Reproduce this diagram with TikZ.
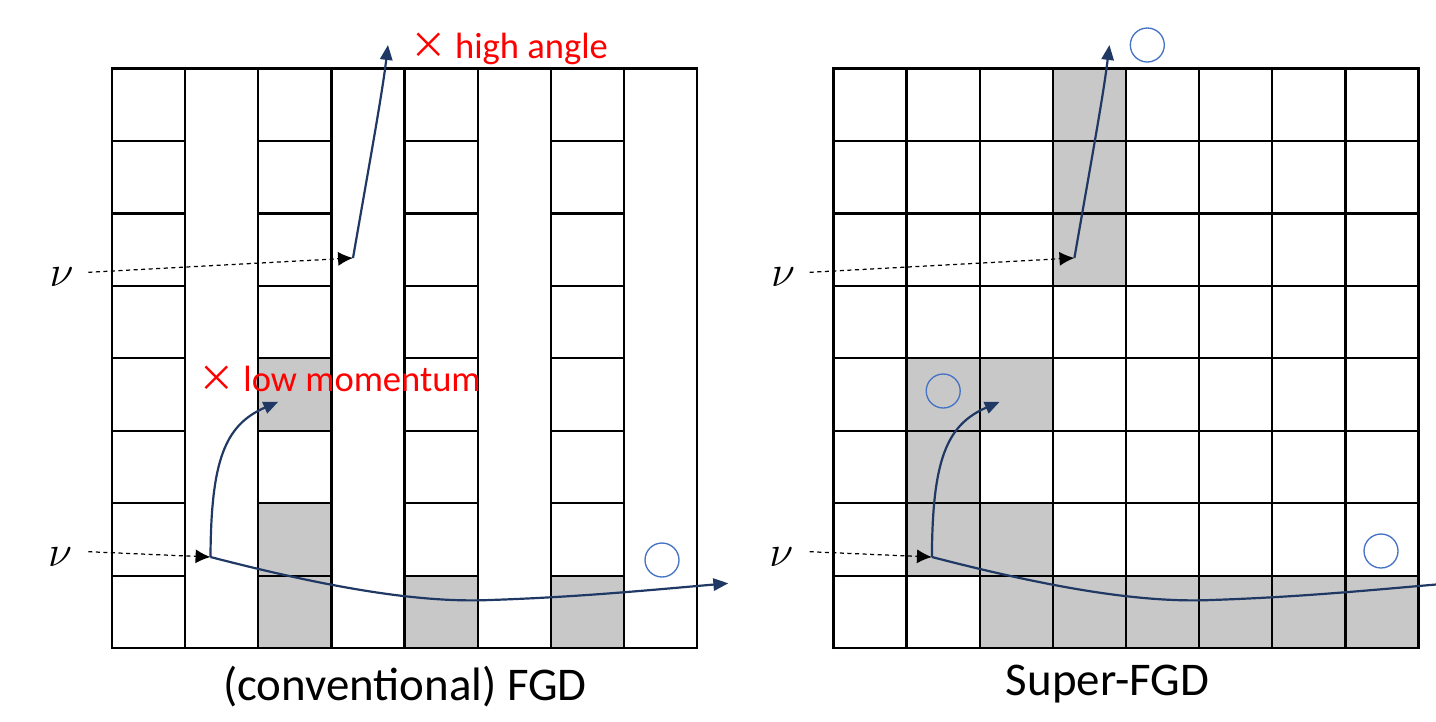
\documentclass[tikz,border=0pt]{standalone}
\usepackage{fontspec}
\setmainfont{Carlito}
\newfontfamily\cjk{Noto Sans CJK JP}
\usetikzlibrary{arrows.meta}
\definecolor{tracknavy}{RGB}{31,56,100}
\definecolor{okblue}{RGB}{68,114,196}
\definecolor{cellgray}{RGB}{200,200,200}

\begin{document}
\begin{tikzpicture}[
    x=0.02cm, y=-0.02cm,
    cellline/.style={line width=1.3pt, black},
    hitcell/.style={fill=cellgray},
    nu/.style={inner sep=0pt, font=\fontsize{30}{30}\selectfont},
    beam/.style={-{Latex[length=8.5pt, width=8pt]}, dash pattern=on 2.3pt off 2pt,
        line width=0.7pt, black},
    track/.style={-{Triangle[length=8.5pt, width=7pt]}, line width=1.25pt, tracknavy},
    okmark/.style={circle, draw=okblue, line width=0.75pt, minimum size=0.68cm,
        inner sep=0pt},
    ngtext/.style={inner sep=0pt, anchor=base west, text=red,
        font=\fontsize{20.8}{25}\selectfont},
    paneltitle/.style={inner sep=0pt, anchor=base, font=\fontsize{26.7}{32}\selectfont},
]
\useasboundingbox (0,0) rectangle (1436,721);
\clip (0,0) rectangle (1436,721);

% Conventional FGD: hit cells
\foreach \c/\r in {2/4, 2/6, 2/7, 4/7, 6/7}
    \fill[hitcell] ({112+\c*73.15},{68.5+\r*72.45}) rectangle ++(73.15,72.45);

% Conventional FGD: grid (cubes in every other column)
\draw[cellline] (112,68.5) rectangle (697.2,648.1);
\foreach \c in {1,...,7}
    \draw[cellline] ({112+\c*73.15},68.5) -- ({112+\c*73.15},648.1);
\foreach \c in {0,2,4,6}
    \foreach \r in {1,...,7}
        \draw[cellline] ({112+\c*73.15},{68.5+\r*72.45}) -- ++(73.15,0);

% Super-FGD: hit cells
\foreach \c/\r in {3/0, 3/1, 3/2, 1/4, 2/4, 1/5, 1/6, 2/6,
                   2/7, 3/7, 4/7, 5/7, 6/7, 7/7}
    \fill[hitcell] ({833.4+\c*73.15},{68.5+\r*72.45}) rectangle ++(73.15,72.45);

% Super-FGD: full grid
\draw[cellline] (833.4,68.5) rectangle (1418.6,648.1);
\foreach \c in {1,...,7}
    \draw[cellline] ({833.4+\c*73.15},68.5) -- ({833.4+\c*73.15},648.1);
\foreach \r in {1,...,7}
    \draw[cellline] (833.4,{68.5+\r*72.45}) -- (1418.6,{68.5+\r*72.45});

% Neutrinos, left panel
\node[nu] (nuHiL) at (61.7,276.7) {$\nu$};
\node[nu] (nuLoL) at (60,556.7) {$\nu$};
\coordinate (inHiL)  at (88.3,272.3);
\coordinate (hitHiL) at (353,258);
\coordinate (outHiL) at (388,45);
\coordinate (inLoL)  at (88.3,551.7);
\coordinate (hitLoL) at (210.5,557);
\coordinate (stopL)  at (278.3,401.7);
\coordinate (exitL)  at (728.3,583.3);

\draw[beam] (inHiL) -- (hitHiL);
\draw[track] (hitHiL) .. controls (370,160) and (382,95) .. (outHiL);
\draw[beam] (inLoL) -- (hitLoL);
\draw[track] (hitLoL) .. controls (211,460) and (225,425) .. (stopL);
\draw[track] (hitLoL) .. controls (330,588) and (420,603) .. (490,600)
    .. controls (580,597) and (650,590) .. (exitL);

% Neutrinos, right panel
\node[nu] (nuHiR) at (783.1,276.7) {$\nu$};
\node[nu] (nuLoR) at (781.4,556.7) {$\nu$};
\coordinate (inHiR)  at (809.7,272.3);
\coordinate (hitHiR) at (1074.4,258);
\coordinate (outHiR) at (1109.4,45);
\coordinate (inLoR)  at (809.7,551.7);
\coordinate (hitLoR) at (931.9,557);
\coordinate (stopR)  at (999.7,401.7);
\coordinate (exitR)  at (1456,582.8);

\draw[beam] (inHiR) -- (hitHiR);
\draw[track] (hitHiR) .. controls (1091.4,160) and (1103.4,95) .. (outHiR);
\draw[beam] (inLoR) -- (hitLoR);
\draw[track] (hitLoR) .. controls (932.4,460) and (946.4,425) .. (stopR);
\draw[track] (hitLoR) .. controls (1051.4,588) and (1141.4,603) .. (1211.4,600)
    .. controls (1301.4,597) and (1371.4,590) .. (exitR);

% Verdicts
\node[ngtext] (ngHigh) at (410,58.3) {{\cjk ×} high angle};
\node[ngtext] (ngLow)  at (198.3,391.7) {{\cjk ×} low momentum};
\node[okmark] (okL)    at (662,560) {};
\node[okmark] (okHiR)  at (1147.3,45) {};
\node[okmark] (okLoR)  at (943.2,391) {};
\node[okmark] (okExR)  at (1381,551) {};

% Titles
\node[paneltitle] (titleL) at (405,700) {(conventional) FGD};
\node[paneltitle] (titleR) at (1107.5,695) {Super-FGD};

\end{tikzpicture}
\end{document}
